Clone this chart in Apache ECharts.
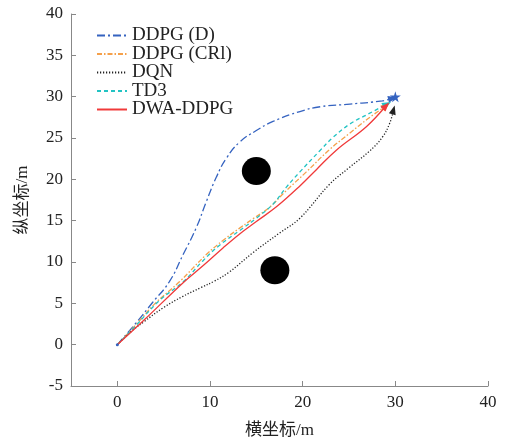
<!DOCTYPE html>
<html><head><meta charset="utf-8">
<script src="https://cdn.jsdelivr.net/npm/echarts@6/dist/echarts.min.js"></script>
<style>html,body{margin:0;padding:0;background:#fff}#c{width:510px;height:439px}</style>
</head><body><div id="c"></div>
<script>
var seriesNames = ['DDPG (D)', 'DDPG (CRl)', 'DQN', 'TD3', 'DWA-DDPG'];
var ddpgD = [[0,0],[2,2.6],[3.8,5.1],[5.6,7.6],[7.1,10.9],[8.5,14.1],[9.6,17.3],[10.7,20.3],[11.8,22.6],[13.2,24.5],[15,25.9],[16.8,27],[19.7,28.2],[22,28.8],[25.1,29.1],[28.6,29.5],[29.7,29.8]];
var ddpgCRl = [[0,0],[2,2.4],[4,4.9],[6.7,7.6],[9.6,10.9],[11.5,12.7],[13.2,14.1],[14.6,15.2],[16.4,16.6],[18.2,18.6],[20.4,20.9],[22.9,23.6],[25.1,25.6],[27,27.3],[29,28.9]];
var dqn = [[0,0],[1.5,1.6],[2.9,2.8],[5,4.5],[7,5.8],[9,6.9],[10.5,7.7],[12.1,8.8],[14.6,11.1],[17.5,13.5],[19.7,15.3],[22.9,19.4],[25,21.4],[27.2,23.4],[28.6,25.1],[29.4,26.8],[29.8,28.4]];
var td3 = [[0,0],[2,2.3],[4.5,5.3],[7.1,7.6],[9.2,10.1],[11,12],[13.2,13.8],[15,15.3],[16.8,17],[18.2,19.0],[19.7,20.9],[21.8,23.4],[23.3,25.1],[25.1,26.7],[26.9,27.8],[29.1,29.1]];
var dwaDdpg = [[0,0],[3,3.1],[7.1,7.5],[9.3,9.6],[11.4,11.7],[13.2,13.4],[15,14.9],[17.2,16.7],[19.7,19.2],[21.5,21.2],[23.6,23.5],[26.9,26.4],[29,28.9]];
var obstacles = [[15,21],[17,9]];
var startPoint = [[0,0]];
var goalPoint = [[30,30]];
var xRange = [-5, 40];
var yRange = [-5, 40];
var xTickValues = [0, 10, 20, 30, 40];
var yTickValues = [-5, 0, 5, 10, 15, 20, 25, 30, 35, 40];

var colors = ['#3563c0', '#f5a04a', '#222222', '#22c3c3', '#f03a3a'];
var dashes = [[8,3,2,3], [5,2,1.5,2], [1.2,1.8], [4,3], 'solid'];
var smoothing = [0.5, 0.4, 0.4, 0.4, 0.4];
var paths = [ddpgD, ddpgCRl, dqn, td3, dwaDdpg];
var FONT = '"Liberation Serif", "Times New Roman", "Noto Sans CJK SC", serif';

function buildLines(rot) {
  return paths.map(function (p, i) {
    var data = p.map(function (pt, j) {
      if (j === p.length - 1) {
        return {value: pt, symbol: 'triangle', symbolSize: [7, 9], symbolRotate: rot ? rot[i] : 0};
      }
      return {value: pt, symbol: 'none'};
    });
    return {
      name: seriesNames[i], type: 'line', data: data, smooth: smoothing[i], symbol: 'none', showSymbol: true,
      color: colors[i], lineStyle: {color: colors[i], width: 1.3, type: dashes[i]},
      itemStyle: {color: colors[i]}, z: 3 + i, animation: false
    };
  });
}

var chart = echarts.init(document.getElementById('c'));
function option(rot) {
  return {
    animation: false,
    backgroundColor: '#fff',
    grid: {left: 71, right: 22, top: 14, bottom: 53, outerBoundsMode: 'none', containLabel: false},
    legend: {
      data: seriesNames, left: 91, top: 21, orient: 'vertical',
      itemWidth: 30, itemHeight: 14, itemGap: -0.5,
      itemStyle: {opacity: 0},
      textStyle: {fontFamily: FONT, fontSize: 19, color: '#222'}
    },
    xAxis: {
      type: 'value', min: xRange[0], max: xRange[1],
      name: '横坐标/m', nameLocation: 'middle', nameGap: 36,
      nameTextStyle: {fontFamily: FONT, fontSize: 17, color: '#222'},
      axisLine: {onZero: false, lineStyle: {color: '#888', width: 1}},
      axisTick: {inside: true, length: 5, lineStyle: {color: '#888'}, customValues: xTickValues},
      axisLabel: {fontFamily: FONT, fontSize: 17, color: '#222', margin: 8, customValues: xTickValues},
      splitLine: {show: false}
    },
    yAxis: {
      type: 'value', min: yRange[0], max: yRange[1], interval: 5,
      name: '纵坐标/m', nameLocation: 'middle', nameGap: 40, nameRotate: 90,
      nameTextStyle: {fontFamily: FONT, fontSize: 17, color: '#222'},
      axisLine: {show: true, onZero: false, lineStyle: {color: '#888', width: 1}},
      axisTick: {show: true, inside: true, length: 5, lineStyle: {color: '#888'}, customValues: yTickValues},
      axisLabel: {fontFamily: FONT, fontSize: 17, color: '#222', margin: 8, customValues: yTickValues},
      splitLine: {show: false}
    },
    series: buildLines(rot).concat([
      {name: 'obstacle', type: 'scatter', data: obstacles, symbol: 'circle', symbolSize: [29, 28],
       itemStyle: {color: '#000', opacity: 1}, z: 2},
      {name: 'start', type: 'scatter', data: startPoint, symbol: 'circle', symbolSize: 3,
       itemStyle: {color: '#3563c0', opacity: 1}, z: 10},
      {name: 'goal', type: 'scatter', data: goalPoint, symbol: 'path://M50,0 L61,35 L98,35 L68,57 L79,91 L50,70 L21,91 L32,57 L2,35 L39,35 Z',
       symbolSize: 11, itemStyle: {color: '#3563c0', opacity: 1}, z: 10}
    ])
  };
}
chart.setOption(option(null));
var rot = paths.map(function (p) {
  var a = chart.convertToPixel({gridIndex: 0}, p[p.length - 2]);
  var b = chart.convertToPixel({gridIndex: 0}, p[p.length - 1]);
  var ang = Math.atan2(-(b[1] - a[1]), b[0] - a[0]) * 180 / Math.PI;
  return ang - 90;
});
chart.setOption(option(rot));
</script></body></html>
